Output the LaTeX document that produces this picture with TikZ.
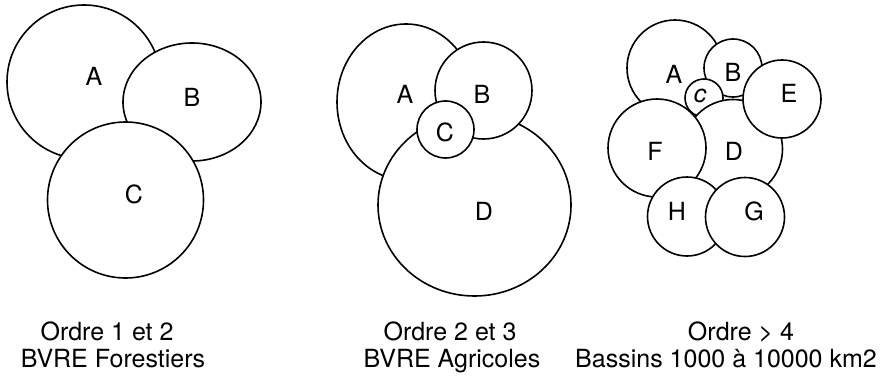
\documentclass[tikz,border=0pt]{standalone}
\usepackage{fontspec}
\setmainfont{TeX Gyre Heros}

\begin{document}
\begin{tikzpicture}[
x=1pt,y=-1pt,
disc/.style={
draw,
fill=white,
line width=1.6pt
},
tag/.style={font=\fontsize{25}{30}\selectfont,inner sep=0pt},
caption/.style={font=\fontsize{25}{30}\selectfont,inner sep=0pt,anchor=base}
]
\useasboundingbox (0,0) rectangle (890,377);

\draw[disc] (84,82) circle[radius=77];
\draw[disc] (192,102) ellipse[x radius=69,y radius=59];
\draw[disc] (125.5,200) circle[radius=78];
\node[tag] (fA) at (94,76) {A};
\node[tag] (fB) at (192,97) {B};
\node[tag] (fC) at (134,194) {C};

\draw[disc] (406,102) ellipse[x radius=69,y radius=78];
\draw[disc] (474.5,205) ellipse[x radius=96.5,y radius=91];
\draw[disc] (483.5,90.5) circle[radius=48.5];
\draw[disc] (445.5,129.5) circle[radius=28.5];
\node[tag] (aA) at (405,94) {A};
\node[tag] (aB) at (482,94) {B};
\node[tag] (aC) at (445,132) {C};
\node[tag] (aD) at (484,211) {D};

\draw[disc] (675,68) circle[radius=48];
\draw[disc] (733,68) circle[radius=29];
\draw[disc] (704,98) circle[radius=19];
\draw[disc] (733,149) circle[radius=49.5];
\draw[disc] (782,99) circle[radius=39];
\draw[disc] (657,148) circle[radius=49];
\draw[disc] (687,216.5) circle[radius=39.5];
\draw[disc] (745,217) circle[radius=39.5];
\node[tag] (bA) at (674,74) {A};
\node[tag] (bB) at (733,72) {B};
\node[tag] (bC) at (700,96) {\itshape c};
\node[tag] (bE) at (789,93) {E};
\node[tag] (bF) at (655,151) {F};
\node[tag] (bD) at (734,151) {D};
\node[tag] (bH) at (677,211) {H};
\node[tag] (bG) at (754,211) {G};

\node[caption] (ordre1) at (107,340) {Ordre 1 et 2};
\node[caption] (bvre1) at (113,367) {BVRE Forestiers};
\node[caption] (ordre2) at (450,340) {Ordre 2 et 3};
\node[caption] (bvre2) at (452,367) {BVRE Agricoles};
\node[caption] (ordre3) at (741,340) {Ordre > 4};
\node[caption] (bassins) at (726,367) {Bassins 1000 à 10000 km2};
\end{tikzpicture}
\end{document}
